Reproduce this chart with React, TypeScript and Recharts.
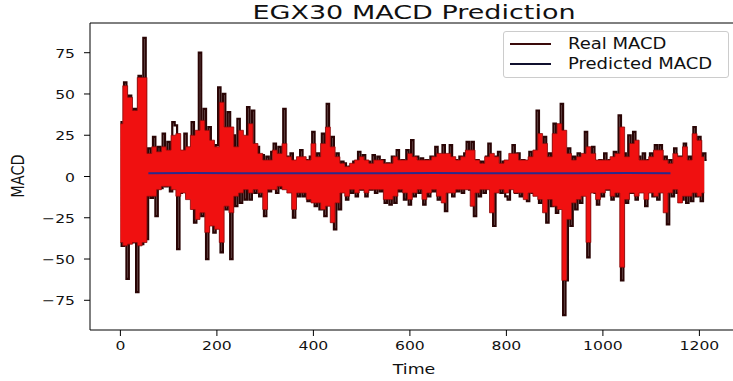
import React from "react";
import {
  ComposedChart, Line, Area, XAxis, YAxis, Legend, ReferenceLine, Label,
} from "recharts";

// sample spacing of the real series is 5, the red body envelope is 10
const realMacd = [
  33, -42, 57, -62, 49, -40, 41, -70, 61, -41, 84, -38,
  17, -13, 24, -24, 18, -7, 26, -6, 21, -9, 33, 31,
  -44, -10, 12, 26, -12, 16, 33, -28, 14, 75, -24, 41,
  -50, 30, -28, -34, 19, 54, -46, 50, -20, 39, -50, 25,
  -18, 35, -16, 12, -14, 42, -14, 40, -10, 18, -12, 13,
  -24, 12, -9, 15, 20, -10, 18, -7, 41, 12, -6, 14,
  -25, 9, -12, 16, -12, 10, -15, 12, 27, -18, 14, -20,
  26, -24, 44, -16, 24, -32, 14, -20, 9, 8, -14, 6,
  -10, 9, -12, 15, -8, 13, -12, 9, -8, 13, -10, 12,
  -9, 10, -16, 8, -17, 12, -16, 16, -9, 10, -14, 16,
  -17, 22, -12, 12, -10, 11, -17, 10, -12, 12, -9, 18,
  -14, 10, 19, -21, 12, 19, -12, 10, -9, 12, -10, 14,
  21, -8, 21, -24, 10, -12, 9, -10, 12, 20, -8, -30,
  12, 15, -10, 9, -12, -14, 11, 19, -10, 14, -12, 10,
  -9, -15, 15, -10, 14, 40, -16, 12, 24, -28, 14, -18,
  32, -22, 20, 44, -84, -63, 17, -30, 12, -20, 14, -16,
  10, 27, -49, 12, 18, -10, -17, 10, -12, 14, -8, 10,
  -14, 15, -12, 37, -63, 14, -16, 25, -10, 27, -14, 12,
  -9, 14, -18, 10, 14, -12, 19, -14, 19, -8, 12, -29,
  10, -12, 17, -10, 12, -14, 20, -16, 12, -15, 30, -12,
  24, -15, 14, 10,
];

const bodyHigh = [
  32, 55, 48, 40, 60, 60,
  14, 18, 15, 18, 16, 25,
  26, 16, 18, 25, 28, 34,
  28, 22, 18, 45, 30, 30,
  18, 28, 25, 32, 20, 14,
  10, 10, 16, 14, 20, 12,
  10, 12, 12, 10, 20, 12,
  20, 30, 18, 12, 8, 6,
  8, 10, 12, 10, 8, 10,
  10, 8, 8, 12, 10, 10,
  14, 12, 10, 10, 10, 12,
  14, 14, 14, 12, 10, 12,
  16, 16, 10, 8, 12, 14,
  12, 8, 10, 14, 14, 10,
  10, 12, 16, 26, 20, 12,
  26, 32, 28, 14, 10, 12,
  14, 18, 14, 10, 10, 10,
  12, 14, 30, 12, 20, 22,
  10, 10, 12, 16, 16, 10,
  8, 14, 12, 18, 10, 26,
  22, 12,
];

const bodyLow = [
  -40, -42, -41, -40, -42, -40,
  -12, -12, -8, -6, -6, -8,
  -12, -10, -14, -20, -26, -22,
  -34, -30, -32, -40, -18, -22,
  -12, -10, -8, -10, -8, -10,
  -20, -8, -8, -6, -8, -10,
  -20, -10, -10, -14, -16, -16,
  -20, -18, -28, -16, -10, -12,
  -8, -10, -8, -10, -8, -8,
  -8, -14, -14, -12, -8, -10,
  -14, -10, -8, -14, -10, -8,
  -12, -16, -10, -10, -8, -8,
  -8, -18, -10, -8, -8, -22,
  -10, -8, -10, -8, -10, -10,
  -14, -10, -12, -14, -22, -14,
  -18, -20, -63, -26, -16, -14,
  -12, -40, -10, -14, -10, -8,
  -12, -10, -55, -14, -10, -12,
  -10, -14, -10, -12, -10, -22,
  -10, -8, -16, -12, -12, -10,
  -12, -10,
];

const predTime = [58, 150, 250, 350, 450, 550, 650, 750, 850, 950, 1050, 1140];
const predMacd = [2.0, 2.1, 1.9, 2.0, 2.0, 1.9, 2.1, 2.0, 1.9, 2.0, 2.1, 2.0];

const timeTicks = [0, 200, 400, 600, 800, 1000, 1200];
const macdTicks = [-75, -50, -25, 0, 25, 50, 75];

const realData = realMacd.map((v, i) => ({ t: i * 5, real: v }));
const bodyData = bodyHigh.map((h, i) => ({ t: i * 10, band: [bodyLow[i], h] }));
const predData = predTime.map((t, i) => ({ t, pred: predMacd[i] }));

const FONT = "DejaVu Sans, sans-serif";
const REAL_COLOR = "#2a0505";
const PRED_COLOR = "#2a2a8c";
const SX = 1.2; // the picture is stretched sideways

const XTick = ({ x, y, payload }: any) => (
  <text transform={`translate(${x},${y + 12}) scale(${SX},1)`} textAnchor="middle"
    fontFamily={FONT} fontSize={13} fill="#111">
    {String(payload.value)}
  </text>
);

const YTick = ({ x, y, payload }: any) => (
  <text transform={`translate(${x},${y + 5}) scale(${SX},1)`} textAnchor="end"
    fontFamily={FONT} fontSize={13} fill="#111">
    {String(payload.value).replace("-", "\u2212")}
  </text>
);

const renderLegend = () => (
  <div style={{
    position: "relative", width: 224, height: 45, border: "1px solid #ccc",
    borderRadius: 3, background: "#fff", fontFamily: FONT, fontSize: 15, color: "#111",
  }}>
    {[["Real MACD", "#3a0a0a", 12], ["Predicted MACD", "#10102e", 32]].map(([name, color, top]) => (
      <div key={name as string} style={{ position: "absolute", left: 0, top: (top as number) - 10, height: 20, width: 224 }}>
        <div style={{ position: "absolute", left: 6, top: 9, width: 41, height: 2, background: color as string }} />
        <div style={{
          position: "absolute", left: 64, top: 0, lineHeight: "20px", whiteSpace: "nowrap",
          transform: `scaleX(${SX})`, transformOrigin: "left center",
        }}>{name}</div>
      </div>
    ))}
  </div>
);

export default function App() {
  return (
    <div style={{ position: "absolute", left: 0, top: 0, width: 733, height: 381, overflow: "hidden", background: "#fff" }}>
      <div style={{
        position: "absolute", left: 90, top: 0, width: 648, textAlign: "center",
        fontFamily: FONT, fontSize: 20, lineHeight: "24px", color: "#111", transform: "scaleX(1.35)",
      }}>EGX30 MACD Prediction</div>
      <ComposedChart width={745} height={381} margin={{ top: 23, right: 7, bottom: 0, left: 0 }}>
        <XAxis dataKey="t" type="number" domain={[-63, 1280]} ticks={timeTicks} allowDataOverflow
          height={51} tickSize={6} tickMargin={2} interval={0}
          axisLine={{ stroke: "#000" }} tickLine={{ stroke: "#000" }} tick={(p: any) => <XTick {...p} />}>
          <Label content={({ viewBox }: any) => (
            <text transform={`translate(${viewBox.x + viewBox.width / 2},${viewBox.y + 44}) scale(${SX},1)`}
              textAnchor="middle" fontFamily={FONT} fontSize={14.5} fill="#111">Time</text>
          )} />
        </XAxis>
        <YAxis type="number" domain={[-93, 93]} ticks={macdTicks} allowDataOverflow width={90}
          tickSize={6} tickMargin={9} interval={0}
          axisLine={{ stroke: "#000" }} tickLine={{ stroke: "#000" }} tick={(p: any) => <YTick {...p} />}>
          <Label content={() => (
            <text transform={`translate(24,176) rotate(-90) scale(1,${SX})`} textAnchor="middle"
              fontFamily={FONT} fontSize={14.5} fill="#111">MACD</text>
          )} />
        </YAxis>
        <ReferenceLine y={93} stroke="#000" />
        <Area data={realData} dataKey="real" type="step" stroke={REAL_COLOR} strokeWidth={2.2}
          fill="none" isAnimationActive={false} name="Real MACD" />
        <Area data={bodyData} dataKey="band" type="step" fill="#f01010" fillOpacity={1}
          stroke="#8a0a0a" strokeWidth={0.8} isAnimationActive={false} legendType="none" />
        <Line data={predData} dataKey="pred" type="linear" stroke={PRED_COLOR} strokeWidth={2}
          dot={false} isAnimationActive={false} name="Predicted MACD" />
        <Legend layout="vertical" align="center" verticalAlign="middle" content={renderLegend}
          wrapperStyle={{ left: 503, top: 31, width: 226 }} />
      </ComposedChart>
    </div>
  );
}
